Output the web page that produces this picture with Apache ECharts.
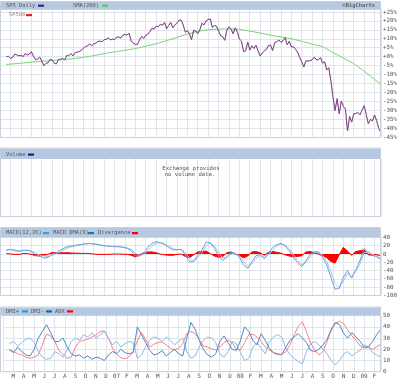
<!DOCTYPE html>
<html><head><meta charset="utf-8">
<script src="https://cdn.jsdelivr.net/npm/echarts@6/dist/echarts.min.js"></script>
<style>html,body{margin:0;padding:0;background:#fff}#c{width:400px;height:385px}</style>
</head><body><div id="c"></div>
<script>
// ---- data ----
const monthLabels = ['M','A','M','J','J','A','S','O','N','D','07','F','M','A','M','J','J','A','S','O','N','D','08','F','M','A','M','J','J','A','S','O','N','D','09','F'];
// SPX closes, one sample every 0.2 month starting at month -0.38 (Mar 2006 = month 0)
const priceStart = -0.38, priceStep = 0.2;
const spxClose = [1289,
1291,1276,1284,1307,1302, 1295,1298,1289,1311,1301, 1306,1325,1292,1267,1272, 1285,1257,1223,1240,1245,
1270,1265,1242,1236,1268, 1270,1275,1266,1297,1296, 1311,1294,1318,1321,1326, 1336,1349,1362,1366,1382,
1367,1382,1385,1400,1400, 1396,1412,1413,1425,1410,
1416,1412,1430,1430,1423, 1445,1450,1444,1459,1400, 1387,1378,1377,1410,1436, 1421,1443,1452,1471,1495,
1487,1509,1505,1522,1515, 1536,1490,1515,1535,1498, 1519,1530,1552,1553,1518, 1465,1476,1453,1411,1479,
1474,1454,1484,1529,1518, 1547,1557,1561,1500,1514, 1509,1475,1439,1433,1407, 1481,1504,1488,1453,1497,
1468,1416,1402,1325,1330, 1395,1336,1367,1348,1372, 1331,1294,1315,1330,1342, 1370,1372,1333,1390,1397,
1409,1392,1404,1426,1375, 1400,1360,1360,1342,1321, 1284,1252,1214,1260,1257, 1260,1266,1285,1266,1267,
1282,1242,1252,1192,1209, 1114,1000,899,986,877, 968,930,911,752,857, 816,876,879,887,868,
903,935,871,805,836, 825,868,827,770,743];
const smaMonths = [-0.38,0,1,2,3,4,5,6,7,8,9,10,11,12,13,14,15,16,17,18,19,20,21,22,23,24,25,26,27,28,29,30,31,32,33,34,35,35.62];
const sma200 = [1232,1235,1242,1249,1255,1261,1267,1274,1284,1296,1311,1323,1335,1347,1364,1382,1404,1428,1452,1472,1483,1488,1490,1486,1474,1460,1444,1431,1419,1400,1380,1362,1320,1280,1240,1185,1125,1093];
// indicators, one sample every 0.4 month from month -0.38
const indStart = -0.38, indStep = 0.4;
const macdLine = [9.6,11,8,6.5,9,9.6,5.6,-2.4,-4.8,-10, -8,0,3,9.6,15,18.5,20,21.7,23,25, 25.7,24,22.5,20,19.3,18.5,17.7,17.7,16,13.7,
8,-4.8,-4.8,1.6,16,25.7,29.7,27,23,16, 9.6,10.4,11,-2.4,-18.5,-18.5,-2.4,9.6,29,27, 13.7,-4.8,-16,-6.4,4.8,1.6,-8,-26.5,-34.6,-18.5,
-4,-1.6,-11.2,1.6,16,22.5,25.7,19.3,8,-8, -21,-30.5,-16,-1.6,5.6,4.8,-8,-26.5,-56,-85, -82.7,-56,-40,-58,-37,-16,13.7,3.2,-3.2,-6.4,-14.5];
const macdSignal = [10,10.5,9.5,7.5,8,9,7.5,2,-2.5,-5, -7,-3.5,0.5,5.5,11,15.5,18.5,20.5,22,24, 25,24.8,23.5,21.5,20,19,18,17.8,16.8,15,
11,2,-3.5,-1,8,19,26,27.5,25,19.5, 13,10.5,10.5,3.5,-10,-17,-9,3,20,26.5, 19,3.5,-10,-9,0,1.5,-4,-18,-30,-24,
-11,-4,-8,-2.5,9,18.5,24,21.5,13,-1, -15,-26,-21,-8,2.5,4.5,-3,-18,-42,-71, -81,-65,-47,-54,-43,-24,3,5,-1,-5,-11];
const macdDiv = [1,0,-1,-1,1,1, -1,-4,-5,-3,-1, 4,3,3, 3,3,2,2,1.5,1.5, 1,0,-1,-1,-1,-0.5,0,0,-0.5,-1,
-3,-7,-2,3,5,5,3,0,-2,-3,-3,-1,0, -6,-9,-2,5,6, 7,1,-5,-8,-6,3,5,0,-4,-9,-5,
5,6,3,-3,4,6,4,2,-2,-5,-7,-6,-4, 5,6,3,0,-5,-9, -18,-22,-2,16,7,-3,6,8,10,-2,-3,-2,-4];
const dmiPlus = [25,27,23,26,29,30,26,18, 13,11,12,18, 16,13,19,27, 30,28,33,31,35,30,33,36,30, 24,27,22,25,27, 26,12,15,
22,28,31,30,27,31,28,24,27,30, 18,12,14, 22,28,31, 30,26, 16,13,18, 27,25, 17,10,12, 22,26,21,16, 27,31,33,31,
21,15,12,9,7, 18,25,27,24,20,16, 10,6,10, 16,18,14,17,19, 24,22,17, 15,13];
const dmiMinus = [20,17,22,18,15,14,20,30, 36,42,35,27, 27,30,22,16, 14,15,12,14,11,13,12,10,15, 18,16,20,17,16, 17,40,33,
26,19,15,16,19,14,17,20,16,14, 30,44,38, 28,20,15, 13,16, 27,32,26, 20,19, 28,40,36, 28,24,34,28, 21,17,16,15,
22,28,31,34,30, 26,19,18,20,24,29, 38,44,42, 34,30,35,31,27, 22,22,27, 33,38];
const adx = [19,18,16,15,13,12,13,15,24,33.5, 32,27,19,15.5,12,13,22,27,28,29, 31,33,35.7,36.5,30,21,15.5,12.5,11.5,13.4,
18,27.5,35,29,22,24.5,26,26.5,24,21, 19.4,21,25,34,36,34,29,23,
22,20.5,19.4,22,26,28.3,26,20,19.4,26, 33,33.5,31,27,22,19.4,17,15,15.5,18, 24,33,40.5,44.5,35.7,25.3,19.4,15,18,27,
37,43,45,43,37,32,28,23,21,22, 20,22,25];

// ---- build ----
const base = spxClose[0];
const pct = p => +((p / base - 1) * 100).toFixed(2);
const priceData = spxClose.map((p, i) => [+(priceStart + i * priceStep).toFixed(2), pct(p)]);
const smaData = sma200.map((p, i) => [smaMonths[i], pct(p)]);
const ind = arr => arr.map((v, i) => [+(indStart + i * indStep).toFixed(2), v]);

const MONO = 'DejaVu Sans Mono';
const GRID = '#e0e5ec';
const LBL = '#555';

function xAxisFor(gi, showLabel) {
  return {
    type: 'value', gridIndex: gi, min: -1, max: 35.64, interval: 1,
    axisLine: {show: false}, axisTick: {show: false},
    splitLine: {show: true, lineStyle: {color: GRID, width: 1}},
    axisLabel: {
      show: showLabel, margin: 2, fontSize: 6, color: LBL, fontFamily: MONO,
      formatter: v => (Number.isInteger(v) && v >= 0 && v < monthLabels.length) ? monthLabels[v] : ''
    }
  };
}
function yAxisFor(gi, min, max, interval, fmt) {
  return {
    type: 'value', gridIndex: gi, position: 'right', min, max, interval,
    axisLine: {show: false}, axisTick: {show: false},
    splitLine: {show: true, lineStyle: {color: GRID, width: 1}},
    axisLabel: {margin: 2, fontSize: 5.8, color: LBL, fontFamily: MONO, formatter: fmt}
  };
}
const gridL = -5.55, gridR = 19;

const txt = (x, y, t, opt = {}) => ({
  type: 'text', z: 12, silent: true,
  style: Object.assign({x, y, text: t, fill: '#555', fontSize: 5.4, fontFamily: MONO, verticalAlign: 'middle', align: 'left'}, opt)
});
const sw = (x, y, c) => ({type: 'rect', z: 12, silent: true, shape: {x, y: y - 1, width: 6, height: 2.2}, style: {fill: c}});
const frame = (y, h) => ({type: 'rect', z: 11, silent: true, shape: {x: 0.5, y, width: 380, height: h}, style: {fill: null, stroke: '#c9d0db', lineWidth: 1}});
const header = (y, h) => ({type: 'rect', z: 10, silent: true, shape: {x: 1, y, width: 379, height: h}, style: {fill: '#b6c9e1'}});

const option = {
  animation: false,
  backgroundColor: '#fff',
  grid: [
    {left: gridL, right: gridR, top: 9.5, height: 127.5},
    {left: gridL, right: gridR, top: 159, height: 57.5},
    {left: gridL, right: gridR, top: 237.4, height: 58.1},
    {left: gridL, right: gridR, top: 315.7, height: 56}
  ],
  xAxis: [xAxisFor(0, false), xAxisFor(1, false), xAxisFor(2, false), xAxisFor(3, true)],
  yAxis: [
    yAxisFor(0, -45, 26.4, 5, v => (Math.abs(v % 5) > 0.01) ? '' : (v >= 0 ? '+' : '') + v + '%'),
    {type: 'value', gridIndex: 1, show: false, min: 0, max: 1, splitLine: {show: false}},
    yAxisFor(2, -100, 40, 20, v => String(v)),
    yAxisFor(3, 0, 50, 10, v => String(v))
  ],
  series: [
    {type: 'line', name: 'SMA(200)', xAxisIndex: 0, yAxisIndex: 0, data: smaData, symbol: 'none', lineStyle: {color: '#7ad47a', width: 1}, z: 2},
    {type: 'line', name: 'SPX Daily', xAxisIndex: 0, yAxisIndex: 0, data: priceData, symbol: 'none', lineStyle: {color: '#4a4aa8', width: 1}, z: 3},
    {type: 'line', name: 'SP500', xAxisIndex: 0, yAxisIndex: 0, data: priceData, symbol: 'none', lineStyle: {color: '#e83838', width: 0.5, opacity: 0.7}, z: 4},
    {type: 'line', name: 'Divergence', xAxisIndex: 2, yAxisIndex: 2, data: ind(macdDiv), symbol: 'none', lineStyle: {color: '#ff0000', width: 1}, areaStyle: {color: '#ff0000', opacity: 1}, z: 2},
    {type: 'line', name: 'MACD EMA(9)', xAxisIndex: 2, yAxisIndex: 2, data: ind(macdSignal), symbol: 'none', lineStyle: {color: '#a3c5e8', width: 1}, z: 3},
    {type: 'line', name: 'MACD(12,26)', xAxisIndex: 2, yAxisIndex: 2, data: ind(macdLine), symbol: 'none', lineStyle: {color: '#6aa4da', width: 1}, z: 4},
    {type: 'line', name: 'ADX', xAxisIndex: 3, yAxisIndex: 3, data: ind(adx), symbol: 'none', lineStyle: {color: '#ff8080', width: 1}, z: 2},
    {type: 'line', name: 'DMI+', xAxisIndex: 3, yAxisIndex: 3, data: ind(dmiPlus), symbol: 'none', lineStyle: {color: '#8dbbe4', width: 1}, z: 3},
    {type: 'line', name: 'DMI-', xAxisIndex: 3, yAxisIndex: 3, data: ind(dmiMinus), symbol: 'none', lineStyle: {color: '#5089c4', width: 1}, z: 4}
  ],
  graphic: [
    header(1.5, 8), frame(1.5, 136),
    txt(6, 5.6, 'SPX Daily'), sw(38, 5.6, '#2b2b8c'),
    txt(73, 5.6, 'SMA(200)'), sw(102, 5.6, '#55cc55'),
    txt(375, 5.6, '\u00a9BigCharts', {align: 'right', fontWeight: 'bold', fill: '#666'}),
    txt(9, 15, 'SP500', {fill: '#888'}), sw(26, 15, '#e02020'),

    header(148.5, 10.5), frame(148, 68.5),
    txt(6, 154.5, 'Volume'), sw(28, 154.5, '#1c1c80'),
    txt(191, 169, 'Exchange provides', {align: 'center', fontSize: 5.6}),
    txt(190, 174.5, 'no volume data.', {align: 'center', fontSize: 5.6}),

    header(228, 9.4), frame(227.5, 68),
    txt(6, 233, 'MACD(12,26)'), sw(43, 233, '#3d9fd8'),
    txt(53, 233, 'MACD EMA(9)'), sw(88, 233, '#2a72a8'),
    txt(98, 233, 'Divergence'), sw(132, 233, '#ff0000'),

    header(307.5, 8.2), frame(307, 64.7),
    txt(6, 311.3, 'DMI+'), sw(22, 311.3, '#3399cc'),
    txt(31, 311.3, 'DMI-'), sw(46, 311.3, '#1f6699'),
    txt(55, 311.3, 'ADX'), sw(67, 311.3, '#ff0000')
  ]
};
const chart = echarts.init(document.getElementById('c'), null, {renderer: 'canvas', width: 400, height: 385});
chart.setOption(option);
</script>
</body></html>
